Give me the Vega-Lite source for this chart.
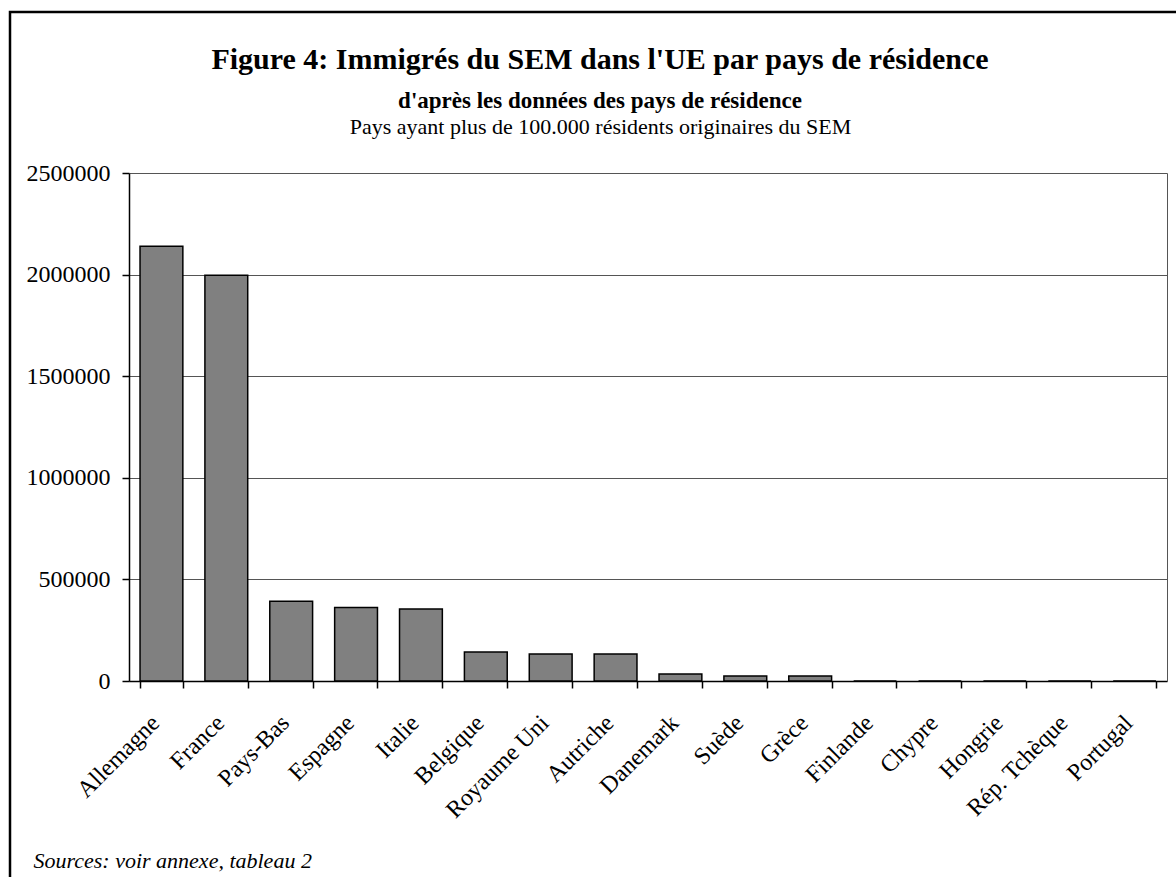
{
  "$schema": "https://vega.github.io/schema/vega-lite/v6.json",
  "width": 1180,
  "height": 880,
  "autosize": {"type": "none"},
  "padding": {"left": 10, "top": 12, "right": -14, "bottom": -15},
  "background": "white",
  "config": {
    "view": {"stroke": "black", "strokeWidth": 2.5},
    "font": "Liberation Serif"
  },
  "title": {
    "text": "Figure 4: Immigrés du SEM dans l'UE par pays de résidence",
    "subtitle": "d'après les données des pays de résidence",
    "font": "Liberation Serif",
    "subtitleFont": "Liberation Serif",
    "fontSize": 30,
    "fontWeight": "bold",
    "subtitleFontSize": 23,
    "subtitleFontWeight": "bold",
    "subtitlePadding": 15,
    "color": "black",
    "subtitleColor": "black",
    "anchor": "middle",
    "frame": "group",
    "offset": -101
  },
  "data": {
    "values": [
      {"pays": "Allemagne", "immigres": 2140000},
      {"pays": "France", "immigres": 1997000},
      {"pays": "Pays-Bas", "immigres": 392000},
      {"pays": "Espagne", "immigres": 362000},
      {"pays": "Italie", "immigres": 354000},
      {"pays": "Belgique", "immigres": 143000},
      {"pays": "Royaume Uni", "immigres": 133000},
      {"pays": "Autriche", "immigres": 133000},
      {"pays": "Danemark", "immigres": 35000},
      {"pays": "Suède", "immigres": 25000},
      {"pays": "Grèce", "immigres": 25000},
      {"pays": "Finlande", "immigres": 0},
      {"pays": "Chypre", "immigres": 0},
      {"pays": "Hongrie", "immigres": 0},
      {"pays": "Rép. Tchèque", "immigres": 0},
      {"pays": "Portugal", "immigres": 0}
    ]
  },
  "layer": [
    {
      "mark": {"type": "bar", "fill": "#808080", "stroke": "black", "strokeWidth": 1.5},
      "encoding": {
        "x": {
          "field": "pays",
          "type": "nominal",
          "sort": null,
          "scale": {"range": [119, 1157], "paddingInner": 0.34, "paddingOuter": 0.17},
          "axis": {
            "orient": "bottom",
            "offset": -211,
            "grid": false,
            "tickBand": "extent",
            "tickSize": 7,
            "tickColor": "black",
            "tickWidth": 1.5,
            "domainColor": "black",
            "domainWidth": 1.5,
            "labelAngle": -45,
            "labelAlign": "right",
            "labelBaseline": "middle",
            "labelFontSize": 24,
            "labelColor": "black",
            "labelPadding": 31,
            "labelOffset": -6,
            "labelFont": "Liberation Serif",
            "title": "Sources: voir annexe, tableau 2",
            "titleFont": "Liberation Serif",
            "titleFontSize": 22,
            "titleFontStyle": "italic",
            "titleFontWeight": "normal",
            "titleColor": "black",
            "titleAnchor": "start",
            "titleAlign": "left",
            "titleBaseline": "alphabetic",
            "titleX": 23,
            "titleY": 186
          }
        },
        "y": {
          "field": "immigres",
          "type": "quantitative",
          "scale": {"domain": [0, 2500000], "range": [669, 161], "nice": false},
          "axis": {
            "orient": "left",
            "offset": -119,
            "values": [0, 500000, 1000000, 1500000, 2000000, 2500000],
            "format": "d",
            "grid": true,
            "gridColor": "#555555",
            "gridWidth": 1,
            "tickSize": 7,
            "tickColor": "black",
            "tickWidth": 1.5,
            "domainColor": "black",
            "domainWidth": 1.5,
            "labelFontSize": 24,
            "labelColor": "black",
            "labelPadding": 12,
            "labelFont": "Liberation Serif",
            "title": null
          }
        }
      }
    },
    {
      "mark": {"type": "bar", "opacity": 0},
      "encoding": {
        "x": {
          "field": "pays",
          "type": "nominal",
          "sort": null,
          "axis": {
            "orient": "top",
            "offset": 0,
            "domain": false,
            "ticks": false,
            "labels": false,
            "grid": false,
            "title": "Pays ayant plus de 100.000 résidents originaires du SEM",
            "titleFont": "Liberation Serif",
            "titleFontSize": 22,
            "titleFontWeight": "normal",
            "titleColor": "black",
            "titleAlign": "center",
            "titleAnchor": "middle",
            "titleBaseline": "alphabetic",
            "titleX": 590,
            "titleY": 121
          }
        },
        "y": {
          "field": "immigres",
          "type": "quantitative",
          "axis": {
            "orient": "right",
            "offset": -23,
            "domain": true,
            "domainColor": "#555555",
            "domainWidth": 1,
            "ticks": false,
            "labels": false,
            "grid": false,
            "title": null
          }
        }
      }
    }
  ],
  "resolve": {"axis": {"x": "independent", "y": "independent"}}
}
